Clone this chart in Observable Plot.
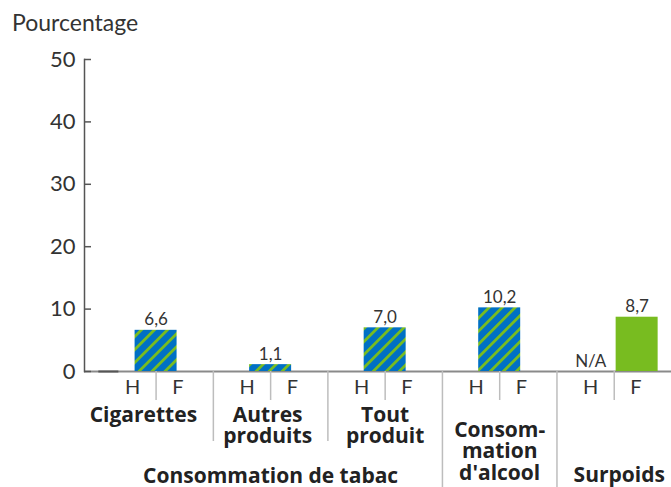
<!DOCTYPE html>
<html><head><meta charset="utf-8">
<script src="https://cdn.jsdelivr.net/npm/d3@7"></script>
<script src="https://cdn.jsdelivr.net/npm/@observablehq/plot@0.6"></script>
<style>
body{margin:0;background:#fff;font-family:Lato,sans-serif;}
#t{height:40px;box-sizing:border-box;padding:2px 0 0 12px;font-size:23px;line-height:40px;color:#333;}
</style></head><body>
<div id="t">Pourcentage</div>
<div id="c"></div>
<script>
// ---- data ----
const categories = ["Cigarettes", "Autres\nproduits", "Tout\nproduit", "Consom-\nmation\nd'alcool", "Surpoids"];
const sexes = ["H", "F"];
const valuesF = [6.6, 1.1, 7.0, 10.2, 8.7];
const valuesH = [0, null, null, null, null];
const notesH = [null, null, null, null, "N/A"];
const hatchedF = [true, true, true, true, false];
const tabacLabel = "Consommation de tabac";
const tabacGroups = [0, 1, 2];
const yTicks = [0, 10, 20, 30, 40, 50];

// ---- layout ----
const W = 671, H = 447, mt = 19, mb = 116, ml = 84;
const slotPx = (W - ml) / 10.25;
const half = 21 / slotPx;
const hOff = -0.41, fOff = 0.38;
const fmt = v => v.toFixed(1).replace(".", ",");

const groups = categories.map((c, g) => ({
  g, label: c, mid: 2 * g + 1,
  f: valuesF[g], h: valuesH[g], note: notesH[g], hatched: hatchedF[g],
  fx: hatchedF[g] ? 2 * g + 1 : 2 * g + 1 + 0.4
}));
const sexLabels = groups.flatMap(d => sexes.map(s => ({s, x: d.mid + (s === "H" ? hOff : fOff)})));
const seps = [];
groups.forEach(d => seps.push({x: d.mid, len: 29}));
groups.slice(0, -1).forEach(d => seps.push({x: d.mid + 1, len: tabacGroups.includes(d.g + 1) ? 70 : 116}));
const catDx = [-12.7, -3, 0, 0, 5];
const catDy = [34.5, 34.5, 34.5, 49.5, 94.5];

const blue = "#0070c4", green = "#78bc20";
const boldFont = "'Open Sans', sans-serif";

const chart = Plot.plot({
  width: W, height: H,
  marginTop: mt, marginBottom: mb, marginLeft: ml, marginRight: 0,
  style: {fontFamily: "Lato, sans-serif", background: "white"},
  x: {domain: [-0.25, 10], axis: null},
  y: {domain: [0, 50], axis: null},
  marks: [
    Plot.ruleY([0], {stroke: "#8a8a8a", strokeWidth: 2}),
    Plot.rectY(groups.filter(d => d.hatched), {x1: d => d.fx - half, x2: d => d.fx + half, y1: 0, y2: "f", fill: "url(#hatch)"}),
    Plot.rectY(groups.filter(d => !d.hatched), {x1: d => d.fx - half, x2: d => d.fx + half, y1: 0, y2: "f", fill: green}),
    Plot.ruleY(groups.filter(d => d.h === 0), {y: 0, x1: d => 2 * d.g, x2: d => 2 * d.g + 0.35, stroke: "#555", strokeWidth: 2}),
    Plot.text(groups, {x: "fx", y: "f", text: d => fmt(d.f), dy: -5, lineAnchor: "bottom", fontSize: 17, fill: "#333"}),
    Plot.text(groups.filter(d => d.note), {x: d => d.mid + hOff, y: 0, text: "note", dy: -5, lineAnchor: "bottom", fontSize: 17, fill: "#333"}),
    Plot.frame({anchor: "left", stroke: "#555", strokeWidth: 1.5}),
    Plot.tickY(yTicks, {y: d => d, stroke: "#555", strokeWidth: 1.5, insetRight: W - ml - 7}),
    Plot.axisY({ticks: yTicks, tickSize: 0, tickPadding: 9, fontSize: 22, fill: "#333", label: null}),
    ...seps.map(s => Plot.ruleX([s], {x: "x", y1: 0, y2: 0, insetBottom: -s.len, stroke: "#bdbdbd", strokeWidth: 1.5})),
    Plot.text(sexLabels, {x: "x", y: 0, text: "s", dy: 16, lineAnchor: "middle", fontSize: 20, fill: "#333"}),
    ...groups.map(d => Plot.text([d], {x: "mid", y: 0, text: "label", dx: catDx[d.g], dy: catDy[d.g], lineAnchor: "top", lineHeight: 1.04, fontSize: 21, fontWeight: "bold", fontFamily: boldFont, fill: "#222"})),
    Plot.text([tabacLabel], {x: d3.mean(tabacGroups, g => 2 * g + 1), y: 0, text: d => d, dy: 96.5, lineAnchor: "top", fontSize: 21, fontWeight: "bold", fontFamily: boldFont, fill: "#222"})
  ]
});

const defs = d3.select(chart).insert("defs", ":first-child");
const p = defs.append("pattern").attr("id", "hatch").attr("patternUnits", "userSpaceOnUse")
  .attr("width", 9.2).attr("height", 9.2).attr("patternTransform", "rotate(45)");
p.append("rect").attr("width", 9.2).attr("height", 9.2).attr("fill", blue);
p.append("rect").attr("width", 2.8).attr("height", 9.2).attr("fill", green);

document.getElementById("c").appendChild(chart);
</script>
</body></html>
